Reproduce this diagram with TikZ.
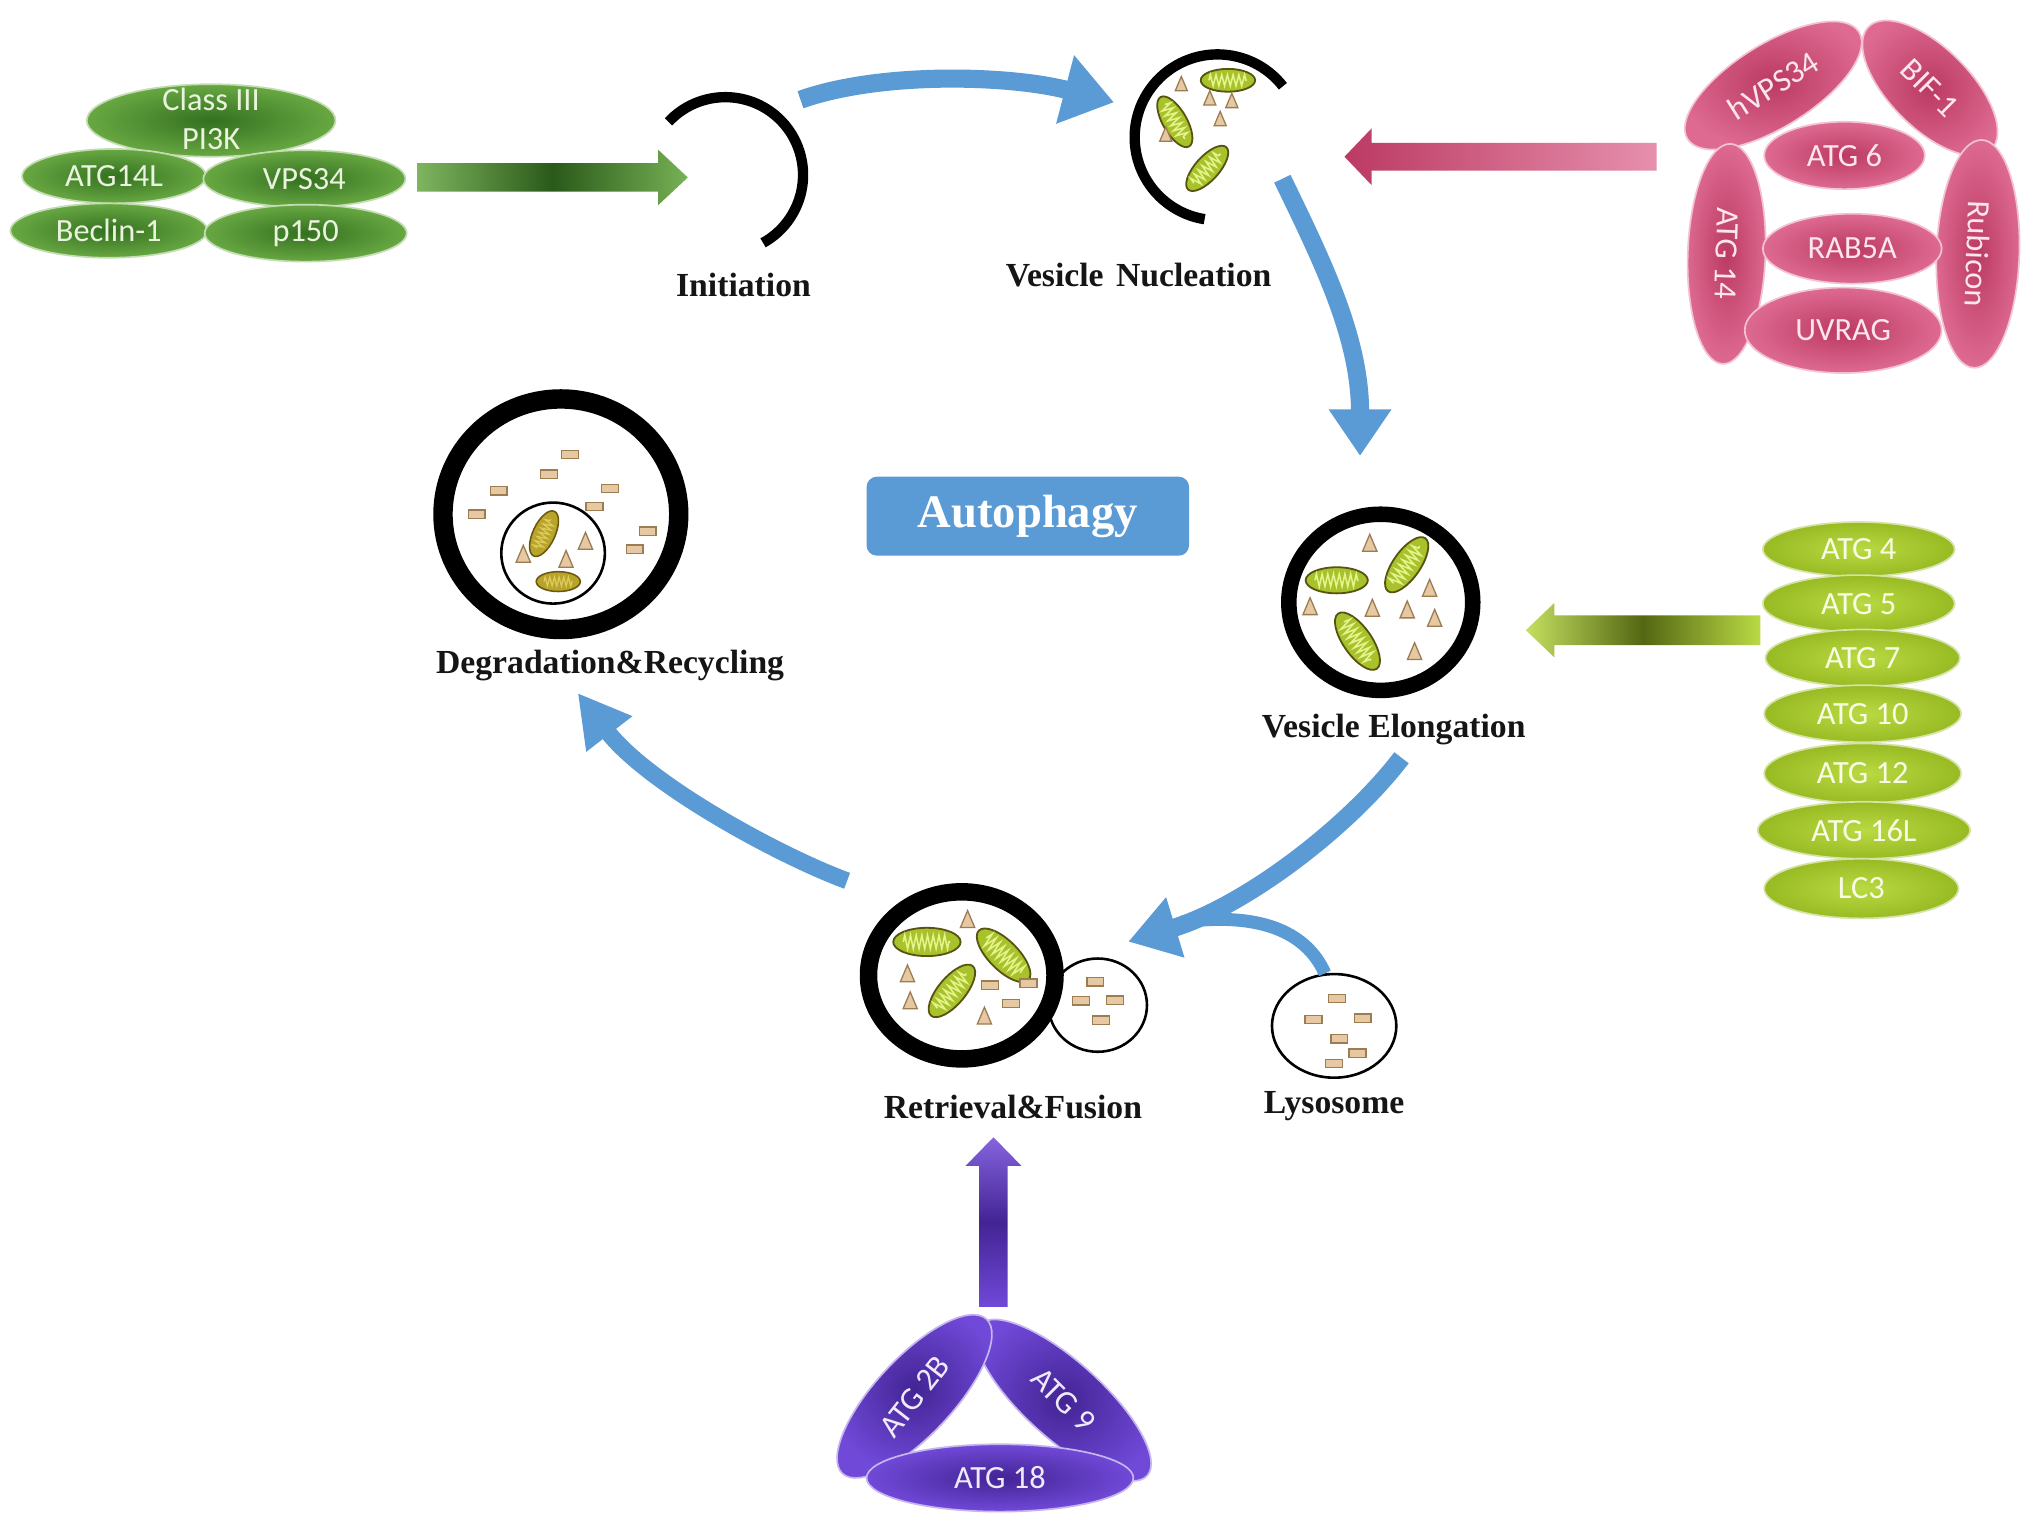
\documentclass[tikz,border=0pt]{standalone}
\usepackage{fontspec}
\setmainfont{Liberation Serif}
\newfontfamily\calib{Carlito}
\usetikzlibrary{shapes.geometric,arrows.meta,decorations.pathmorphing}

\definecolor{autoblue}{HTML}{5B9BD5}
\definecolor{gIn}{HTML}{347020}
\definecolor{gOut}{HTML}{68A842}
\definecolor{gTxt}{HTML}{EAF3DD}
\definecolor{pIn}{HTML}{BB3A63}
\definecolor{pOut}{HTML}{DE6A91}
\definecolor{pTxt}{HTML}{FBE6EE}
\definecolor{lIn}{HTML}{BADA44}
\definecolor{lOut}{HTML}{98BA22}
\definecolor{lTxt}{HTML}{F7FCE2}
\definecolor{uIn}{HTML}{432494}
\definecolor{uOut}{HTML}{7049D8}
\definecolor{uTxt}{HTML}{EFEAFB}
\definecolor{mitoF}{HTML}{A8C22C}
\definecolor{mitoE}{HTML}{595312}
\definecolor{mitoC}{HTML}{E4F38C}
\definecolor{mitobF}{HTML}{B8A42A}
\definecolor{mitobE}{HTML}{6B5810}
\definecolor{mitobC}{HTML}{DCCB5C}
\definecolor{triF}{HTML}{E6C9A2}
\definecolor{triE}{HTML}{9C7C52}
\definecolor{labtxt}{HTML}{151515}

\tikzset{
  pics/mito/.style={code={
    \path[fill=mitoF,draw=mitoE,line width=1.4pt] (0,0) ellipse [x radius=#1, y radius={0.42*#1}];
    \draw[mitoC,line width=1.2pt,decorate,decoration={zigzag,segment length=4.4pt,amplitude={0.2*#1}}] ({-0.7*#1},0) -- ({0.7*#1},0);
  }},
  pics/mitob/.style={code={
    \path[fill=mitobF,draw=mitobE,line width=1.2pt] (0,0) ellipse [x radius=#1, y radius={0.45*#1}];
    \draw[mitobC,line width=1pt,decorate,decoration={zigzag,segment length=3.6pt,amplitude={0.2*#1}}] ({-0.65*#1},0) -- ({0.65*#1},0);
  }},
  pics/tri/.style={code={
    \path[fill=triF,draw=triE,line width=1pt] ({-5.5*#1},{-6*#1}) -- ({5.5*#1},{-6*#1}) -- (0,{7*#1}) -- cycle;
  }},
  pics/enz/.style={code={
    \path[fill=triF,draw=triE,line width=1pt] (-6.5,-3.2) rectangle (6.5,3.2);
  }},
  blob/.style={ellipse,inner sep=0pt,line width=1.3pt,shade,shading=radial},
  gblob/.style={blob,inner color=gIn,outer color=gOut,draw=gOut!40!white},
  pblob/.style={blob,inner color=pIn,outer color=pOut,draw=pOut!40!white},
  lblob/.style={blob,inner color=lIn,outer color=lOut,draw=lOut!40!white},
  ublob/.style={blob,inner color=uIn,outer color=uOut,draw=uOut!40!white},
  btext/.style={font=\calib\fontsize{25}{30}\selectfont,align=center,inner sep=0pt},
  gtext/.style={btext,text=gTxt},
  ptext/.style={btext,text=pTxt},
  ltext/.style={btext,text=lTxt},
  utext/.style={btext,text=uTxt},
  lab/.style={font=\bfseries\fontsize{26}{28}\selectfont,text=labtxt,inner sep=0pt},
  ring/.style={ellipse,draw=black,inner sep=0pt},
  barrow/.style={draw=autoblue,line width=14pt,-{Triangle[width=48pt,length=38pt]}},
}

\begin{document}
\begin{tikzpicture}[x=1pt,y=1pt]
\useasboundingbox (0,0) rectangle (1568,-1181);
\fill[white] (0,0) rectangle (1568,-1181);

% ---------- green complex (top left) ----------
\node[gblob,minimum width=192,minimum height=56] (pi3k) at (163,-93) {};
\node[gblob,minimum width=142,minimum height=42] (atg14l) at (88,-136) {};
\node[gblob,minimum width=152,minimum height=42] (beclin) at (84,-178) {};
\node[gblob,minimum width=156,minimum height=44] (vps34) at (235,-138) {};
\node[gblob,minimum width=156,minimum height=44] (p150) at (236,-180) {};
\node[gtext] (pi3kT) at (163,-92) {Class III\\PI3K};
\node[gtext] (atg14lT) at (atg14l) {ATG14L};
\node[gtext] (beclinT) at (beclin) {Beclin-1};
\node[gtext] (vps34T) at (vps34) {VPS34};
\node[gtext] (p150T) at (p150) {p150};

% green block arrow
\coordinate (gTip) at (531,-137);
\shade[left color=gOut!85!white,right color=gOut!90!white,middle color=gIn!80!black]
  (gTip) -- ++(-23,21.5) -- ++(0,-10.5) -- ++(-186,0) -- ++(0,-22) -- ++(186,0) -- ++(0,-10.5) -- cycle;

% ---------- Initiation ----------
\draw[line width=8pt] (560,-135) ++(137:60) arc[start angle=137,end angle=-61,radius=60];
\node[lab] (lInit) at (574,-220) {Initiation};

% ---------- Vesicle Nucleation ----------
\draw[line width=8pt] (940,-106) ++(38:64) arc[start angle=38,end angle=261,radius=64];
\pic at (948,-62) {mito=21};
\pic[rotate=-60] at (907,-94) {mito=22};
\pic[rotate=48] at (932,-130) {mito=22};
\pic at (912,-65) {tri=0.85};
\pic at (934,-76) {tri=0.85};
\pic at (951,-78) {tri=0.85};
\pic at (942,-92) {tri=0.85};
\pic at (900,-104) {tri=0.85};
\node[lab] (lNuc) at (879,-212) {Vesicle\hspace{0.12em} Nucleation};

% ---------- pink complex ----------
\node[pblob,minimum width=156,minimum height=64,rotate=32] (hvps) at (1369,-66) {};
\node[pblob,minimum width=134,minimum height=62,rotate=-45] (bif) at (1490,-68) {};
\node[pblob,minimum width=170,minimum height=60,rotate=-92] (atg14) at (1333,-196) {};
\node[pblob,minimum width=176,minimum height=64,rotate=-92] (rubi) at (1527,-196) {};
\node[pblob,minimum width=124,minimum height=52] (atg6) at (1424,-120) {};
\node[pblob,minimum width=138,minimum height=54] (rab) at (1430,-192) {};
\node[pblob,minimum width=152,minimum height=66] (uvrag) at (1423,-255) {};
\node[ptext,rotate=32] (hvpsT) at (hvps) {hVPS34};
\node[ptext,rotate=-45] (bifT) at (bif) {BIF-1};
\node[ptext,rotate=-92] (atg14T) at (atg14) {ATG 14};
\node[ptext,rotate=-92] (rubiT) at (rubi) {Rubicon};
\node[ptext] (atg6T) at (atg6) {ATG 6};
\node[ptext] (rabT) at (rab) {RAB5A};
\node[ptext] (uvragT) at (uvrag) {UVRAG};

% pink block arrow
\coordinate (pTip) at (1038,-121);
\shade[left color=pIn,right color=pOut!75!white]
  (pTip) -- ++(21,22) -- ++(0,-11.25) -- ++(220,0) -- ++(0,-21.5) -- ++(-220,0) -- ++(0,-11.25) -- cycle;

% ---------- Vesicle Elongation ----------
\node[ring,line width=12pt,minimum width=142,minimum height=136] (elong) at (1066,-465) {};
\pic at (1032,-448) {mito=24};
\pic[rotate=55] at (1086,-436) {mito=25};
\pic[rotate=-55] at (1048,-495) {mito=26};
\pic at (1057.5,-419.5) {tri=1};
\pic at (1103.7,-454.3) {tri=1};
\pic at (1011.4,-468.5) {tri=1};
\pic at (1059.5,-469.7) {tri=1};
\pic at (1086.4,-471) {tri=1};
\pic at (1107.6,-477.5) {tri=1};
\pic at (1092.1,-503.2) {tri=1};
\node[lab] (lElo) at (1076,-563) {Vesicle Elongation};

% light green column
\node[lblob,minimum width=148,minimum height=42] (a4) at (1435,-424) {};
\node[lblob,minimum width=148,minimum height=44] (a5) at (1435,-466) {};
\node[lblob,minimum width=150,minimum height=44] (a7) at (1438,-508) {};
\node[lblob,minimum width=152,minimum height=44] (a10) at (1438,-551) {};
\node[lblob,minimum width=152,minimum height=46] (a12) at (1438,-597) {};
\node[lblob,minimum width=164,minimum height=44] (a16) at (1439,-641) {};
\node[lblob,minimum width=150,minimum height=46] (lc3) at (1437,-686) {};
\node[ltext] (a4T) at (a4) {ATG 4};
\node[ltext] (a5T) at (a5) {ATG 5};
\node[ltext] (a7T) at (a7) {ATG 7};
\node[ltext] (a10T) at (a10) {ATG 10};
\node[ltext] (a12T) at (a12) {ATG 12};
\node[ltext] (a16T) at (a16) {ATG 16L};
\node[ltext] (lc3T) at (lc3) {LC3};

% light green block arrow
\coordinate (lTip) at (1178,-486.5);
\shade[left color=lIn!85!white,right color=lIn,middle color=lOut!55!black]
  (lTip) -- ++(22,21) -- ++(0,-9.5) -- ++(159,0) -- ++(0,-23) -- ++(-159,0) -- ++(0,-9.5) -- cycle;

% ---------- Autophagy ----------
\node[fill=autoblue,rounded corners=8pt,minimum width=249,minimum height=61,inner sep=0pt,
      text=white,font=\bfseries\fontsize{36}{40}\selectfont] (auto) at (793.5,-398.5) {Autophagy};

% ---------- Degradation & Recycling ----------
\node[ring,line width=15pt,minimum width=182,minimum height=178] (degr) at (433,-397) {};
\node[ring,line width=2pt,minimum width=80,minimum height=78] (degin) at (427,-427) {};
\pic[rotate=65] at (420,-412) {mitob=19};
\pic at (431,-449) {mitob=17};
\pic at (404,-428) {tri=1};
\pic at (437,-432) {tri=1};
\pic at (452,-418) {tri=1};
\foreach \p in {(440,-351),(424,-366),(385,-379),(471,-377),(459,-391),(368,-397),(500,-410),(490,-424)}
  \pic at \p {enz};
\node[lab] (lDeg) at (471,-514) {Degradation\&Recycling};

% ---------- Retrieval & Fusion ----------
\node[ring,line width=2pt,minimum width=76,minimum height=72] (fuse) at (847.5,-776) {};
\foreach \p in {(845.6,-758),(834.5,-772.7),(861,-772.2),(850,-787.6)}
  \pic at \p {enz};
\node[ring,line width=13.5pt,minimum width=144,minimum height=129] (retr) at (742.5,-753) {};
\pic at (715.6,-727.2) {mito=26};
\pic[rotate=-45] at (774.8,-737.5) {mito=27};
\pic[rotate=50] at (734.9,-765) {mito=25};
\pic at (747,-710) {tri=1};
\pic at (700.6,-752) {tri=1};
\pic at (702.7,-772.8) {tri=1};
\pic at (760,-784.6) {tri=1};
\foreach \p in {(764.5,-760.6),(794,-759),(780.7,-774.8)}
  \pic at \p {enz};
\node[lab] (lRet) at (782,-855) {Retrieval\&Fusion};

% ---------- Lysosome ----------
\node[ring,line width=2pt,minimum width=96,minimum height=80] (lyso) at (1030,-792) {};
\foreach \p in {(1032,-771),(1014,-787),(1052,-786),(1034,-802),(1048,-813),(1030,-821)}
  \pic at \p {enz};
\node[lab] (lLys) at (1030,-854) {Lysosome};

% ---------- purple complex ----------
\node[ublob,minimum width=174,minimum height=60,rotate=-42] (atg9) at (821,-1081) {};
\node[ublob,minimum width=163,minimum height=60,rotate=47] (atg2b) at (706,-1078) {};
\node[ublob,minimum width=206,minimum height=52] (atg18) at (772,-1141) {};
\node[utext,rotate=-45] (atg9T) at (atg9) {ATG 9};
\node[utext,rotate=52] (atg2bT) at (atg2b) {ATG 2B};
\node[utext] (atg18T) at (atg18) {ATG 18};

% purple block arrow
\coordinate (uTip) at (767,-878);
\shade[top color=uOut!85!white,bottom color=uOut,middle color=uIn]
  (uTip) -- ++(-21.5,-22) -- ++(10.5,0) -- ++(0,-109) -- ++(22,0) -- ++(0,109) -- ++(10.5,0) -- cycle;

% ---------- blue cycle arrows ----------
\coordinate (c1s) at (618,-77);
\coordinate (c1e) at (860,-79);
\draw[barrow,-{Triangle[width=52pt,length=39pt]}] (c1s) .. controls (680,-55) and (780,-58) .. (c1e);

\coordinate (c2s) at (990,-138);
\coordinate (c2e) at (1050,-352);
\draw[barrow,-{Triangle[width=46pt,length=36pt]}] (c2s) .. controls (1020,-200) and (1050,-260) .. (c2e);

\coordinate (c4e) at (912,-712);
\draw[autoblue,line width=10pt] (lyso.100) .. controls (1008,-718) and (970,-704) .. (c4e);

\coordinate (c3s) at (1082,-585);
\coordinate (c3e) at (871,-727);
\draw[barrow,-{Triangle[width=46pt,length=38pt]}] (c3s) .. controls (1040,-640) and (960,-700) .. (c3e);

\coordinate (c5s) at (654,-680);
\coordinate (c5e) at (446,-535);
\draw[barrow,line width=13pt,-{Triangle[width=42pt,length=40pt]}] (c5s) .. controls (600,-660) and (500,-605) .. (c5e);

\end{tikzpicture}
\end{document}
